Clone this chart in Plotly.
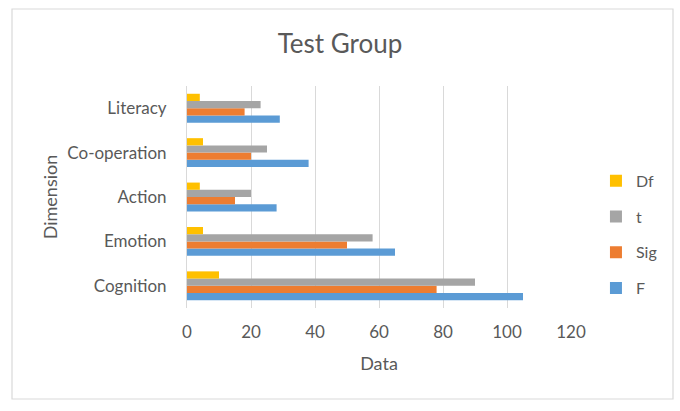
import plotly.graph_objects as go

# data
categories = ['Cognition', 'Emotion', 'Action', 'Co-operation', 'Literacy']
f_vals = [105, 65, 28, 38, 29]
sig_vals = [78, 50, 15, 20, 18]
t_vals = [90, 58, 20, 25, 23]
df_vals = [10, 5, 4, 5, 4]

series = [
    ('F', f_vals, '#5B9BD5'),
    ('Sig', sig_vals, '#ED7D31'),
    ('t', t_vals, '#A5A5A5'),
    ('Df', df_vals, '#FFC000'),
]

W, H = 680, 411
ml, mr, mt, mb = 187, 109, 86, 103
txt = '#595959'
font = 'Lato, Calibri, Carlito, sans-serif'

fig = go.Figure()
for i, (name, vals, col) in enumerate(series):
    fig.add_trace(go.Bar(
        name=name,
        y=categories,
        x=vals,
        orientation='h',
        marker=dict(color=col, line=dict(width=0)),
        legendgroup=name,
        legendrank=1000 - i,   # Df on top of the legend, like Excel
    ))

pw = W - ml - mr
ph = H - mt - mb
# outer chart border (Excel chart area)
fig.add_shape(type='rect', xref='paper', yref='paper',
              x0=(12 - ml) / pw, x1=(673 - ml) / pw,
              y0=(H - mb - 399) / ph, y1=(H - mb - 9) / ph,
              line=dict(color='#D9D9D9', width=1.2), fillcolor='rgba(0,0,0,0)',
              layer='below')

fig.update_layout(
    width=W, height=H,
    margin=dict(l=ml, r=mr, t=mt, b=mb),
    barmode='group',
    bargap=0.35,
    bargroupgap=0,
    plot_bgcolor='white',
    paper_bgcolor='white',
    font=dict(family=font, color=txt, size=17),
    title=dict(text='Test Group', x=0.5, xref='container', xanchor='center',
               y=1 - 44 / H, yref='container', yanchor='middle',
               font=dict(size=26, color=txt, family=font)),
    legend=dict(traceorder='grouped', x=1.065, xref='paper', xanchor='left',
                y=0.33, yanchor='middle', tracegroupgap=12,
                font=dict(size=16, color=txt), itemwidth=30,
                bgcolor='rgba(0,0,0,0)'),
)

fig.update_xaxes(
    range=[0, 120], dtick=20, showgrid=True, gridcolor='#D9D9D9', gridwidth=1,
    zeroline=False, showline=False, ticks='', ticklabelstandoff=12,
    tickfont=dict(size=17, color=txt),
    title=dict(text='Data', font=dict(size=18, color=txt), standoff=16),
)
fig.update_yaxes(
    showgrid=False, showline=True, linecolor='#D9D9D9', linewidth=1,
    ticks='', ticklabelstandoff=16, tickfont=dict(size=17, color=txt),
    title=dict(text='Dimension', font=dict(size=18, color=txt), standoff=5),
)

fig.write_html('out.html', config={'displayModeBar': False},
               post_script="document.body.style.margin='0';")
